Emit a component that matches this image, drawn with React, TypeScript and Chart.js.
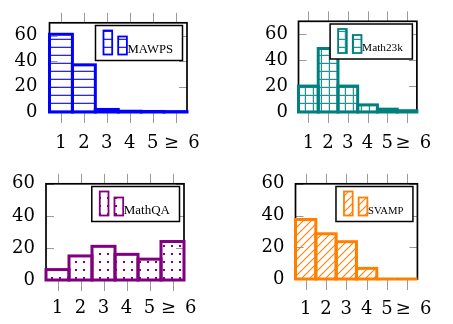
import React, { useEffect, useRef } from "react";
import { Chart, registerables } from "chart.js";

Chart.register(...registerables);

// ---------- data ----------
const categories = ["1", "2", "3", "4", "5", "≥ 6"];
const yTickValues = [0, 20, 40, 60];
const mawpsValues = [61, 37, 2, 0.6, 0.4, 0.3];
const math23kValues = [20, 49, 20, 5.5, 2.2, 1];
const mathqaValues = [6.5, 15, 21, 16, 13, 24];
const svampValues = [37.5, 28.5, 23.5, 6.7, 0, 0];
const seriesNames = ["MAWPS", "Math23k", "MathQA", "SVAMP"];
const yMaxima = [70, 70, 60, 60];

// ---------- styling / layout ----------
const seriesColors = ["#0000ff", "#008080", "#800080", "#ff8000"];
const patternKinds = ["hlines", "grid", "dots", "nelines"];
const TICK_FONT = "'DejaVu Serif', serif";
const LEGEND_FONT = "'Liberation Serif', serif";

type PanelLayout = {
  cx: number; cy: number; cw: number; ch: number;
  L: number; R: number; T: number; B: number;
  xPad: number; yPad: number; legendSize: number;
};

const panelLayouts: PanelLayout[] = [
  { cx: 0, cy: 0, cw: 226, ch: 162, L: 49.5, R: 187, T: 10, B: 112, xPad: 21, yPad: 12, legendSize: 12.7 },
  { cx: 226, cy: 0, cw: 227, ch: 162, L: 298.5, R: 436, T: 10, B: 112, xPad: 20.5, yPad: 10.5, legendSize: 11.3 },
  { cx: 0, cy: 162, cw: 226, ch: 162, L: 46, R: 184, T: 176.5, B: 280, xPad: 18, yPad: 11, legendSize: 13 },
  { cx: 226, cy: 162, cw: 227, ch: 162, L: 295.5, R: 433, T: 176.5, B: 279, xPad: 20, yPad: 11, legendSize: 10.7 },
];

// typeset the "≥ 6" label like TeX math: leading offset and a wide space
function displayLabel(label: string) {
  if (label.startsWith("≥")) return "\u2002\u2009" + label.replace(" ", "\u2002");
  return label;
}

function makePattern(ctx: CanvasRenderingContext2D, kind: string, color: string) {
  const tile = document.createElement("canvas");
  tile.width = 8;
  tile.height = 8;
  const g = tile.getContext("2d")!;
  g.fillStyle = color;
  g.strokeStyle = color;
  if (kind === "hlines") {
    g.globalAlpha = 0.85;
    g.fillRect(0, 7, 8, 1);
    g.globalAlpha = 0.25;
    g.fillRect(0, 6, 8, 1);
  } else if (kind === "grid") {
    g.globalAlpha = 0.85;
    g.fillRect(0, 7, 8, 1);
    g.fillRect(7, 0, 1, 7);
    g.globalAlpha = 0.2;
    g.fillRect(0, 6, 8, 1);
    g.fillRect(6, 0, 1, 6);
  } else if (kind === "dots") {
    g.fillRect(3, 3, 2, 2);
  } else if (kind === "nelines") {
    g.globalAlpha = 1;
    g.lineWidth = 1.1;
    g.beginPath();
    g.moveTo(-1, 9);
    g.lineTo(9, -1);
    g.moveTo(-1, 1);
    g.lineTo(1, -1);
    g.moveTo(7, 9);
    g.lineTo(9, 7);
    g.stroke();
  }
  return ctx.createPattern(tile, "repeat")!;
}

type PanelProps = {
  layout: PanelLayout;
  values: number[];
  name: string;
  color: string;
  kind: string;
  yMax: number;
};

function Panel({ layout, values, name, color, kind, yMax }: PanelProps) {
  const ref = useRef<HTMLCanvasElement | null>(null);

  useEffect(() => {
    const canvas = ref.current!;
    const ctx0 = canvas.getContext("2d")!;
    const pattern = makePattern(ctx0, kind, color);
    const { cx, cy, cw, ch, L, R, T, B } = layout;

    const framePlugin = {
      id: "frameTicks",
      beforeDatasetsDraw(chart: any) {
        const { ctx, chartArea, scales } = chart;
        const { left, right, top, bottom } = chartArea;
        const xs = scales.x;
        const ys = scales.y;
        ctx.save();
        ctx.strokeStyle = "#9a9a9a";
        ctx.lineWidth = 1;
        ctx.beginPath();
        xs.ticks.forEach((_t: any, i: number) => {
          const px = Math.round(xs.getPixelForTick(i)) + 0.5;
          ctx.moveTo(px, bottom);
          ctx.lineTo(px, bottom + 11);
          ctx.moveTo(px, top);
          ctx.lineTo(px, top - 10);
        });
        ys.ticks.forEach((t: any) => {
          const py = Math.round(ys.getPixelForValue(t.value)) + 0.5;
          ctx.moveTo(left, py);
          ctx.lineTo(left + 8, py);
          ctx.moveTo(right, py);
          ctx.lineTo(right - 8, py);
        });
        ctx.stroke();
        ctx.strokeStyle = "#000";
        ctx.lineWidth = 1.7;
        ctx.strokeRect(left, top, right - left, bottom - top);
        ctx.restore();
      },
      afterDatasetsDraw(chart: any) {
        const { ctx } = chart;
        const meta = chart.getDatasetMeta(0);
        ctx.save();
        meta.data.forEach((el: any) => {
          const p = el.getProps(["x", "y", "base", "width"], true);
          ctx.fillStyle = pattern;
          ctx.fillRect(p.x - p.width / 2, p.y, p.width, p.base - p.y);
        });
        ctx.strokeStyle = color;
        ctx.lineWidth = 3;
        ctx.lineJoin = "miter";
        meta.data.forEach((el: any) => {
          const p = el.getProps(["x", "y", "base", "width"], true);
          ctx.strokeRect(p.x - p.width / 2, p.y, p.width, p.base - p.y);
        });
        ctx.restore();
      },
      afterDraw(chart: any) {
        const { ctx, chartArea } = chart;
        ctx.save();
        ctx.font = `${layout.legendSize}px ${LEGEND_FONT}`;
        const tw = ctx.measureText(name).width;
        const boxW = 32 + tw + 9.5;
        const boxH = 35;
        const bx = chartArea.right - 4.5 - boxW;
        const by = chartArea.top + 2.7;
        ctx.fillStyle = "#fff";
        ctx.fillRect(bx, by, boxW, boxH);
        ctx.strokeStyle = "#000";
        ctx.lineWidth = 1.5;
        ctx.strokeRect(bx, by, boxW, boxH);
        const iconBottom = by + 29;
        const icons = [
          { x: bx + 8, h: 24 },
          { x: bx + 22.7, h: 18 },
        ];
        icons.forEach((ic) => {
          ctx.fillStyle = pattern;
          ctx.fillRect(ic.x, iconBottom - ic.h, 8.7, ic.h);
          ctx.strokeStyle = color;
          ctx.lineWidth = 1.8;
          ctx.strokeRect(ic.x, iconBottom - ic.h, 8.7, ic.h);
        });
        ctx.fillStyle = "#000";
        ctx.textBaseline = "alphabetic";
        ctx.textAlign = "left";
        ctx.fillText(name, bx + 32, by + 27);
        ctx.restore();
      },
    };

    const chart = new Chart(canvas, {
      type: "bar",
      data: {
        labels: categories,
        datasets: [
          {
            data: values,
            backgroundColor: "rgba(0,0,0,0)",
            borderWidth: 0,
            barPercentage: 1,
            categoryPercentage: 1,
          },
        ],
      },
      options: {
        animation: false,
        responsive: false,
        events: [],
        layout: {
          padding: { left: 0, top: T - cy, right: cx + cw - R, bottom: 0 },
        },
        plugins: { legend: { display: false }, tooltip: { enabled: false } },
        scales: {
          x: {
            type: "category",
            offset: true,
            grid: { display: false, drawTicks: false },
            border: { display: false },
            ticks: {
              color: "#000",
              font: { family: TICK_FONT, size: 18 },
              padding: layout.xPad,
              maxRotation: 0,
              autoSkip: false,
              callback: (_v: any, i: number) => displayLabel(categories[i]),
            },
            afterFit: (s: any) => {
              s.height = cy + ch - B;
            },
          },
          y: {
            min: 0,
            max: yMax,
            grid: { display: false, drawTicks: false },
            border: { display: false },
            ticks: {
              stepSize: 20,
              color: "#000",
              font: { family: TICK_FONT, size: 18 },
              padding: layout.yPad,
            },
            afterBuildTicks: (s: any) => {
              s.ticks = yTickValues.map((v) => ({ value: v }));
            },
            afterFit: (s: any) => {
              s.width = L - cx;
            },
          },
        },
      } as any,
      plugins: [framePlugin],
    });
    return () => chart.destroy();
  }, []);

  return (
    <canvas
      ref={ref}
      width={layout.cw}
      height={layout.ch}
      style={{ position: "absolute", left: layout.cx, top: layout.cy, width: layout.cw, height: layout.ch }}
    />
  );
}

const allValues = [mawpsValues, math23kValues, mathqaValues, svampValues];

export default function App() {
  return (
    <div
      style={{
        position: "fixed",
        left: 0,
        top: 0,
        width: 453,
        height: 324,
        background: "#fff",
        overflow: "hidden",
      }}
    >
      {panelLayouts.map((lay, i) => (
        <Panel
          key={i}
          layout={lay}
          values={allValues[i]}
          name={seriesNames[i]}
          color={seriesColors[i]}
          kind={patternKinds[i]}
          yMax={yMaxima[i]}
        />
      ))}
    </div>
  );
}
